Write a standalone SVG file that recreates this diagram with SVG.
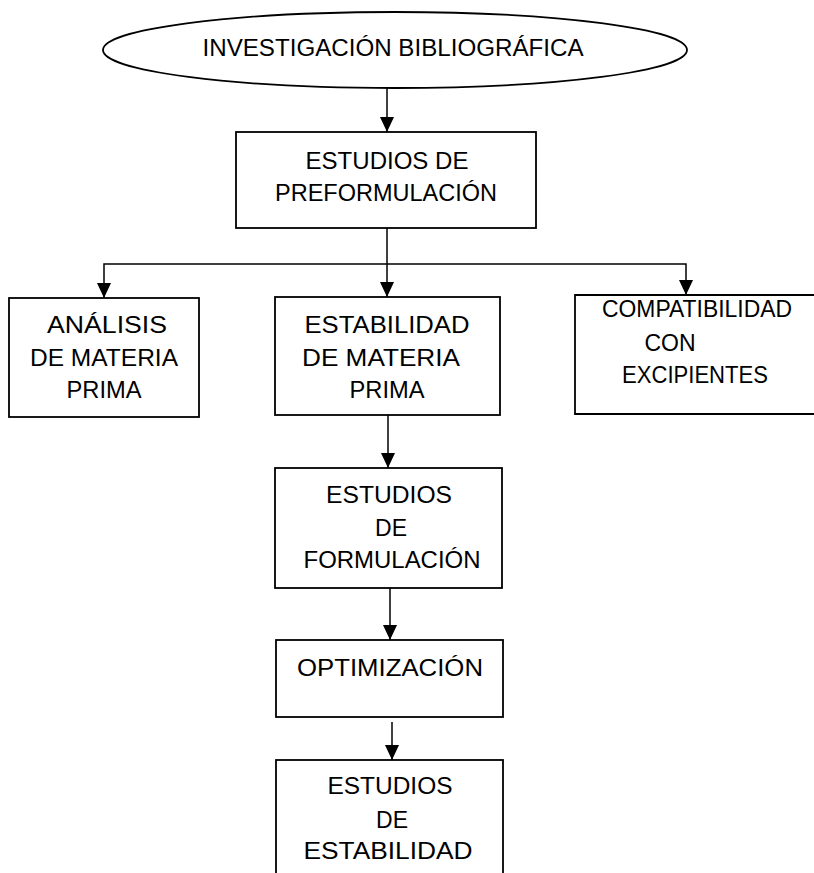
<svg xmlns="http://www.w3.org/2000/svg" width="814" height="873" viewBox="0 0 814 873">
<style>
.bg{fill:#ffffff}
.shape{fill:#ffffff;stroke:#000000;stroke-width:1.8}
.open{fill:none;stroke:#000000;stroke-width:1.8}
.conn{fill:none;stroke:#000000;stroke-width:1.5}
text{font-family:"Liberation Sans","DejaVu Sans",sans-serif;font-size:23px;fill:#000000;text-anchor:middle}
</style>
<defs>
<marker id="arr" markerUnits="userSpaceOnUse" markerWidth="15" markerHeight="14" refX="15" refY="7" orient="auto">
<path d="M0,0 L15,7 L0,14 Z" fill="#000000"/>
</marker>
</defs>
<rect class="bg" x="0" y="0" width="814" height="873"/>
<g id="connectors">
<path class="conn" d="M387,88 L387,132" marker-end="url(#arr)"/>
<path class="conn" d="M387,228 L387,297" marker-end="url(#arr)"/>
<path class="conn" d="M387,264 L104,264 L104,298" marker-end="url(#arr)"/>
<path class="conn" d="M387,264 L686,264 L686,295" marker-end="url(#arr)"/>
<path class="conn" d="M388,415 L388,468" marker-end="url(#arr)"/>
<path class="conn" d="M390,588 L390,640" marker-end="url(#arr)"/>
<path class="conn" d="M392,722 L392,760" marker-end="url(#arr)"/>
</g>
<g id="investigacion">
<ellipse class="shape" cx="395" cy="50" rx="292" ry="38"/>
<text x="393" y="56" textLength="381" lengthAdjust="spacingAndGlyphs">INVESTIGACIÓN  BIBLIOGRÁFICA</text>
</g>
<g id="preformulacion">
<rect class="shape" x="236" y="132" width="300" height="96"/>
<text x="387" y="169" textLength="163" lengthAdjust="spacingAndGlyphs">ESTUDIOS DE</text>
<text x="386" y="201" textLength="222" lengthAdjust="spacingAndGlyphs">PREFORMULACIÓN</text>
</g>
<g id="analisis">
<rect class="shape" x="9" y="298" width="190" height="119"/>
<text x="107" y="333" textLength="120" lengthAdjust="spacingAndGlyphs">ANÁLISIS</text>
<text x="104" y="366" textLength="148" lengthAdjust="spacingAndGlyphs">DE MATERIA</text>
<text x="104" y="398" textLength="75" lengthAdjust="spacingAndGlyphs">PRIMA</text>
</g>
<g id="estabilidad-mp">
<rect class="shape" x="275" y="297" width="225" height="118"/>
<text x="387" y="333" textLength="165" lengthAdjust="spacingAndGlyphs">ESTABILIDAD</text>
<text x="381" y="366" textLength="158" lengthAdjust="spacingAndGlyphs">DE MATERIA</text>
<text x="387" y="398" textLength="75" lengthAdjust="spacingAndGlyphs">PRIMA</text>
</g>
<g id="compatibilidad">
<path class="open" d="M820,295 L575,295 L575,414 L820,414"/>
<text x="697" y="317" font-size="22" textLength="190" lengthAdjust="spacingAndGlyphs">COMPATIBILIDAD</text>
<text x="670" y="351" font-size="22">CON</text>
<text x="695" y="383" font-size="22" textLength="146" lengthAdjust="spacingAndGlyphs">EXCIPIENTES</text>
</g>
<g id="formulacion">
<rect class="shape" x="275" y="468" width="227" height="120"/>
<text x="389" y="503" textLength="126" lengthAdjust="spacingAndGlyphs">ESTUDIOS</text>
<text x="391" y="536">DE</text>
<text x="392" y="568" textLength="177" lengthAdjust="spacingAndGlyphs">FORMULACIÓN</text>
</g>
<g id="optimizacion">
<rect class="shape" x="276" y="640" width="227" height="77"/>
<text x="390" y="676" textLength="186" lengthAdjust="spacingAndGlyphs">OPTIMIZACIÓN</text>
</g>
<g id="estudios-estabilidad">
<rect class="shape" x="276" y="760" width="227" height="140"/>
<text x="390" y="794" textLength="125" lengthAdjust="spacingAndGlyphs">ESTUDIOS</text>
<text x="392" y="828">DE</text>
<text x="388" y="859" textLength="169" lengthAdjust="spacingAndGlyphs">ESTABILIDAD</text>
</g>
</svg>
